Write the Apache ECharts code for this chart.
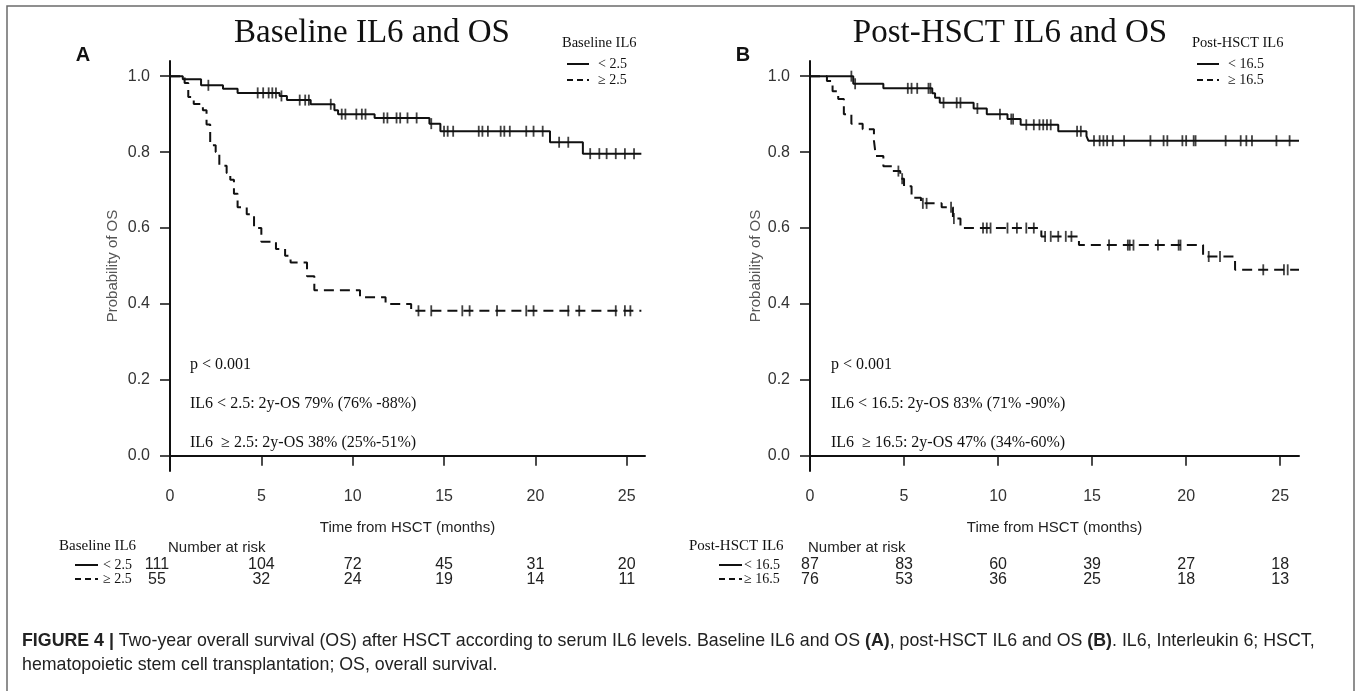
<!DOCTYPE html>
<html lang="en">
<head>
<meta charset="UTF-8">
<script src="https://cdn.jsdelivr.net/npm/echarts@6/dist/echarts.min.js"></script>
</head>
<body style="margin:0;background:#fff">
<div id="main" style="width:1357px;height:691px"></div>
<script>
// ticks and risk table columns
var riskTimes = [0, 5, 10, 15, 20, 25];
var yTicks = [0, 0.2, 0.4, 0.6, 0.8, 1.0];

// panel A - baseline IL6 < 2.5
var aLoTimes = [0, 0.7, 1.7, 2.9, 3.7, 6.0, 6.4, 7.7, 9.0, 9.2, 11.2, 14.2, 14.8, 20.8, 22.6, 25.8];
var aLoSurv  = [1.0, 0.992, 0.976, 0.967, 0.956, 0.948, 0.937, 0.926, 0.91, 0.90, 0.89, 0.875, 0.855, 0.826, 0.796, 0.796];
var aLoCens  = [2.1, 4.8, 5.1, 5.4, 5.6, 5.8, 6.1, 7.1, 7.4, 7.6, 8.8, 9.4, 9.6, 10.2, 10.5, 10.7, 11.7, 11.9, 12.4, 12.6,
                13.0, 13.5, 14.3, 15.0, 15.2, 15.5, 16.9, 17.1, 17.4, 18.1, 18.3, 18.6, 19.5, 19.9, 20.4, 21.3, 21.8,
                23.0, 23.5, 23.9, 24.4, 24.9, 25.4];
// panel A - baseline IL6 >= 2.5
var aHiTimes = [0, 0.8, 1.0, 1.3, 1.8, 2.0, 2.2, 2.5, 2.7, 3.1, 3.3, 3.5, 3.7, 4.2, 4.6, 5.0, 5.8, 6.3, 6.6, 7.5, 7.9, 10.4, 11.8, 13.2, 25.8];
var aHiSurv  = [1.0, 0.982, 0.945, 0.927, 0.91, 0.873, 0.818, 0.80, 0.764, 0.745, 0.727, 0.69, 0.655, 0.636, 0.60, 0.564, 0.545, 0.527, 0.509, 0.473, 0.436, 0.418, 0.40, 0.382, 0.382];
var aHiCens  = [13.6, 14.3, 16.0, 16.4, 17.9, 19.5, 19.9, 21.8, 22.4, 24.4, 24.9, 25.2];
var aRiskLo = [111, 104, 72, 45, 31, 20];
var aRiskHi = [55, 32, 24, 19, 14, 11];

// panel B - post-HSCT IL6 < 16.5
var bLoTimes = [0, 2.3, 3.9, 6.5, 6.65, 6.9, 8.7, 9.4, 10.5, 11.2, 13.2, 14.7, 14.8, 26];
var bLoSurv  = [1.0, 0.98, 0.968, 0.955, 0.943, 0.93, 0.915, 0.90, 0.887, 0.872, 0.855, 0.842, 0.83, 0.83];
var bLoCens  = [2.2, 2.4, 5.2, 5.4, 5.7, 6.3, 6.4, 7.1, 7.8, 8.0, 8.9, 10.1, 10.7, 10.8, 11.5, 11.9, 12.2, 12.4, 12.6, 12.8,
                14.2, 14.4, 15.1, 15.4, 15.6, 15.8, 16.1, 16.7, 18.1, 18.8, 19.0, 19.8, 20.0, 20.4, 20.5, 22.1, 22.9,
                23.2, 23.5, 24.8, 25.5];
// panel B - post-HSCT IL6 >= 16.5
var bHiTimes = [0, 0.9, 1.2, 1.5, 1.8, 2.2, 2.8, 3.4, 3.5, 3.9, 4.4, 4.8, 5.0, 5.4, 5.9, 7.0, 7.6, 8.0, 12.3, 14.3, 20.9, 22.6, 26];
var bHiSurv  = [1.0, 0.987, 0.96, 0.94, 0.90, 0.875, 0.86, 0.83, 0.79, 0.763, 0.75, 0.73, 0.71, 0.68, 0.665, 0.655, 0.625, 0.60, 0.578, 0.555, 0.525, 0.49, 0.49];
var bHiCens  = [4.7, 4.9, 6.0, 6.2, 7.5, 7.65, 9.2, 9.4, 9.6, 10.5, 11.0, 11.5, 11.9, 12.5, 12.8, 13.2, 13.6, 13.9,
                15.9, 16.9, 17.0, 17.2, 18.5, 19.6, 19.7, 21.2, 21.8, 24.1, 25.2, 25.4];
var bRiskLo = [87, 83, 60, 39, 27, 18];
var bRiskHi = [76, 53, 36, 25, 18, 13];

var SERIF = '"Liberation Serif", "Times New Roman", serif';
var SANS = '"Liberation Sans", Arial, sans-serif';

function km(times, surv) {
    return times.map(function (t, i) { return [t, surv[i]]; });
}
// survival level at a censoring time (step lookup on the curve)
function cens(ct, times, surv) {
    return ct.map(function (c) {
        var s = surv[0];
        for (var i = 0; i < times.length; i++) { if (times[i] <= c) s = surv[i]; }
        return [c, s];
    });
}

function xAx(idx) {
    return {
        type: 'value', gridIndex: idx, min: 0, max: 26,
        axisLine: { lineStyle: { color: '#111', width: 2 } },
        axisTick: { customValues: riskTimes, length: 10, lineStyle: { color: '#111', width: 1.5 } },
        axisLabel: { customValues: riskTimes, margin: 18, color: '#333', fontSize: 16, fontFamily: SANS },
        splitLine: { show: false }
    };
}
function yAx(idx) {
    return {
        type: 'value', gridIndex: idx, min: -0.04, max: 1.04,
        axisLine: { show: true, lineStyle: { color: '#111', width: 2 } },
        axisTick: { show: true, customValues: yTicks, length: 10, lineStyle: { color: '#111', width: 1.5 } },
        axisLabel: { customValues: yTicks, margin: 20, color: '#333', fontSize: 16, fontFamily: SANS,
            formatter: function (v) { return v.toFixed(1); } },
        splitLine: { show: false }
    };
}
function curve(idx, data, dashed) {
    return {
        type: 'line', xAxisIndex: idx, yAxisIndex: idx, step: 'end', data: data,
        showSymbol: false, silent: true, animation: false,
        lineStyle: { color: '#111', width: 2, type: dashed ? [10, 6] : 'solid' }
    };
}
function marks(idx, data) {
    return {
        type: 'scatter', xAxisIndex: idx, yAxisIndex: idx, data: data, z: 5,
        symbol: 'rect', symbolSize: [1.8, 11], silent: true, animation: false,
        itemStyle: { color: '#111' }
    };
}

var chart = echarts.init(document.getElementById('main'));
chart.setOption({
    backgroundColor: '#fff',
    animation: false,
    grid: [
        { left: 170, top: 61, width: 475, height: 410 },
        { left: 810, top: 61, width: 489, height: 410 }
    ],
    xAxis: [xAx(0), xAx(1)],
    yAxis: [yAx(0), yAx(1)],
    series: [
        curve(0, km(aLoTimes, aLoSurv), false),
        curve(0, km(aHiTimes, aHiSurv), true),
        marks(0, cens(aLoCens, aLoTimes, aLoSurv)),
        marks(0, cens(aHiCens, aHiTimes, aHiSurv)),
        curve(1, km(bLoTimes, bLoSurv), false),
        curve(1, km(bHiTimes, bHiSurv), true),
        marks(1, cens(bLoCens, bLoTimes, bLoSurv)),
        marks(1, cens(bHiCens, bHiTimes, bHiSurv))
    ]
});

function txt(x, y, s, size, font, opts) {
    opts = opts || {};
    return {
        type: 'text', x: x, y: y, rotation: opts.rot || 0, z: 10,
        style: {
            text: s, fontSize: size, fontFamily: font, fill: opts.fill || '#111',
            fontWeight: opts.bold ? 'bold' : 'normal',
            align: opts.align || 'left', verticalAlign: 'middle', rich: opts.rich
        }
    };
}
function seg(x1, y1, x2, y2, dashed) {
    return {
        type: 'line', z: 10, shape: { x1: x1, y1: y1, x2: x2, y2: y2 },
        style: { stroke: '#111', lineWidth: 2, lineDash: dashed ? [6, 4] : null }
    };
}

// panel text, legends and risk tables
var panels = [
    { idx: 0, letter: 'A', lx: 83, title: 'Baseline IL6 and OS', tx: 372, grp: 'Baseline IL6',
      lo: '< 2.5', hi: '\u2265 2.5', legX: 562, ylab: 113, noteX: 190,
      note1: 'IL6 < 2.5: 2y-OS 79% (76% -88%)', note2: 'IL6  \u2265 2.5: 2y-OS 38% (25%-51%)',
      rgX: 59, rowLine: 75, rowTxt: 103, firstShift: -13, riskLo: aRiskLo, riskHi: aRiskHi },
    { idx: 1, letter: 'B', lx: 743, title: 'Post-HSCT IL6 and OS', tx: 1010, grp: 'Post-HSCT IL6',
      lo: '< 16.5', hi: '\u2265 16.5', legX: 1192, ylab: 756, noteX: 831,
      note1: 'IL6 < 16.5: 2y-OS 83% (71% -90%)', note2: 'IL6  \u2265 16.5: 2y-OS 47% (34%-60%)',
      rgX: 689, rowLine: 719, rowTxt: 744, firstShift: 0, riskLo: bRiskLo, riskHi: bRiskHi }
];

var g = [];
// figure frame
g.push({ type: 'polyline', z: 1, shape: { points: [[7, 691], [7, 6], [1354, 6], [1354, 691]] },
         style: { stroke: '#6b6b6b', lineWidth: 1.5, fill: null } });

panels.forEach(function (p) {
    var g0 = chart.convertToPixel({ gridIndex: p.idx }, [0, 0]);
    var g1 = chart.convertToPixel({ gridIndex: p.idx }, [26, 0]);
    var cx = (g0[0] + g1[0]) / 2;
    g.push(txt(p.lx, 55, p.letter, 20, SANS, { bold: true, align: 'center' }));
    g.push(txt(p.tx, 33, p.title, 33, SERIF, { align: 'center' }));
    g.push(txt(p.legX, 43, p.grp, 14.5, SERIF));
    g.push(seg(p.legX + 5, 64, p.legX + 27, 64, false));
    g.push(seg(p.legX + 5, 80, p.legX + 27, 80, true));
    g.push(txt(p.legX + 36, 64, p.lo, 14, SERIF));
    g.push(txt(p.legX + 36, 80, p.hi, 14, SERIF));
    g.push(txt(p.ylab, 266, 'Probability of OS', 15, SANS, { rot: Math.PI / 2, align: 'center', fill: '#555' }));
    g.push(txt(p.noteX, 365, 'p < 0.001', 16, SERIF));
    g.push(txt(p.noteX, 404, p.note1, 16, SERIF));
    g.push(txt(p.noteX, 443, p.note2, 16, SERIF));
    g.push(txt(cx, 528, 'Time from HSCT (months)', 15, SANS, { align: 'center', fill: '#222' }));
    g.push(txt(p.rgX, 546, p.grp, 15, SERIF));
    g.push(txt(g0[0] - 2, 548, 'Number at risk', 15, SANS, { fill: '#222' }));
    g.push(seg(p.rowLine, 565, p.rowLine + 23, 565, false));
    g.push(seg(p.rowLine, 579, p.rowLine + 23, 579, true));
    g.push(txt(p.rowTxt, 565, p.lo, 14, SERIF));
    g.push(txt(p.rowTxt, 579, p.hi, 14, SERIF));
    riskTimes.forEach(function (t, i) {
        var x = chart.convertToPixel({ gridIndex: p.idx }, [t, 0])[0] + (i === 0 ? p.firstShift : 0);
        g.push(txt(x, 565, String(p.riskLo[i]), 16, SANS, { align: 'center', fill: '#222' }));
        g.push(txt(x, 580, String(p.riskHi[i]), 16, SANS, { align: 'center', fill: '#222' }));
    });
});

// caption
g.push(txt(22, 641, '{b|FIGURE 4 |} Two-year overall survival (OS) after HSCT according to serum IL6 levels. Baseline IL6 and OS {b|(A)}, post-HSCT IL6 and OS {b|(B)}. IL6, Interleukin 6; HSCT,',
    17.8, SANS, { fill: '#222', rich: { b: { fontWeight: 'bold', fontSize: 17.8, fontFamily: SANS, fill: '#222' } } }));
g.push(txt(22, 665, 'hematopoietic stem cell transplantation; OS, overall survival.', 17.8, SANS, { fill: '#222' }));

chart.setOption({ graphic: g });
</script>
</body>
</html>
